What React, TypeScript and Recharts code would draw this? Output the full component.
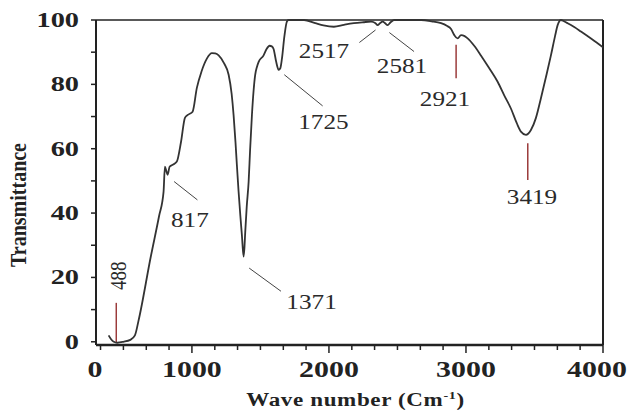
import React from 'react'
import { LineChart, Line, XAxis, YAxis, ReferenceLine, ReferenceDot } from 'recharts'

// IR spectrum (wave number cm-1 / transmittance %)
const waveNumbers = [
  392, 410, 430, 455, 500, 550, 584, 610, 700, 760, 793, 803, 815, 823, 837, 860, 890, 920, 949, 970,
  1005, 1036, 1070, 1109, 1146, 1170, 1195, 1235, 1268, 1290, 1304, 1318, 1328, 1340, 1353, 1365, 1377, 1383, 1389, 1400,
  1414, 1425, 1438, 1450, 1462, 1475, 1487, 1523, 1545, 1567, 1583, 1596, 1615, 1633, 1645, 1657, 1675, 1693, 1705, 1818,
  1900, 1960, 2036, 2110, 2182, 2250, 2307, 2340, 2355, 2372, 2392, 2410, 2428, 2450, 2477, 2672, 2750, 2818, 2860, 2891,
  2915, 2939, 2964, 2990, 3012, 3060, 3109, 3170, 3231, 3280, 3328, 3370, 3401, 3438, 3474, 3510, 3547, 3585, 3620, 3650,
  3669, 3693, 3715, 3742, 3790, 3839, 3920, 4000,
]
const transmittance = [
  2.0, 0.8, 0, -0.3, 0, 0.6, 2, 6.5, 26.5, 39, 46.6, 54.4, 52.8, 51.9, 54.4, 55, 56, 62, 69.6, 70.5,
  71.5, 78.9, 84, 88, 89.7, 89.6, 89, 86.5, 83, 77, 70.5, 62, 55, 47, 39.4, 33, 26.5, 29, 34, 42,
  49.8, 60, 70.5, 78, 83, 85.5, 87, 89, 91, 92, 91.8, 91, 87, 84.5, 85, 88, 95, 99.5, 100, 100,
  99, 98.3, 97.9, 98.5, 99, 99.3, 99.5, 99, 98.4, 99, 99.5, 99, 98.4, 99.3, 100, 100, 99.6, 99, 98.2, 97.2,
  95.3, 94.3, 95.3, 95, 94.3, 92, 89, 85, 80.8, 76.5, 72.5, 68, 65.3, 64.3, 65.8, 69.5, 75.7, 82.5, 89, 95,
  98.4, 100, 99.6, 99, 97.8, 96.4, 94, 91.5,
]
const spectrum = waveNumbers.map((w, i) => ({ w, t: transmittance[i] }))

const xZeroTick = 300
const xMajorTicks = [1000, 2000, 3000, 4000]
const xMinorTicks = [333, 500, 667, 833, 1167, 1333, 1500, 1667, 1833, 2167, 2333, 2500, 2667, 2833, 3167, 3333, 3500, 3667, 3833]
const yTicks = [0, 10, 20, 30, 40, 50, 60, 70, 80, 90, 100]
const yLabelled = [0, 20, 40, 60, 80, 100]

// peak labels with their leader lines
const peakLabels = ['817', '1371', '1725', '2517', '2581', '2921', '3419']
const peakLabelX = [985, 1873, 1960, 1964, 2533, 2847, 3482]
const peakLabelY = [38, 12.4, 68.2, 90.5, 85.6, 75.6, 44.9]
const leaderFrom = [[870, 49.8], [1418, 22.9], [1674, 83], [2222, 93], [2441, 96.1]]
const leaderTo = [[1040, 44.1], [1650, 15.7], [1954, 73.3], [2340, 96.9], [2621, 90.2]]
const redMarkX = [448, 2928, 3451]
const redMarkTop = [12.1, 92.3, 61.7]
const redMarkBottom = [-0.3, 81.9, 50.3]

const serif = '"Liberation Serif", "Times New Roman", serif'
const ink = '#222'

function XTick(props: any) {
  const { x, y, payload } = props
  const v = payload.value
  if (v === xZeroTick) {
    return (
      <text transform={`translate(${x - 1},${y + 32}) scale(1.3,1)`} textAnchor="middle"
        fontFamily={serif} fontWeight="bold" fontSize={23} fill={ink}>0</text>
    )
  }
  const mi = xMajorTicks.indexOf(v)
  if (mi < 0) return <line x1={x} x2={x} y1={y} y2={y + 5} stroke={ink} strokeWidth={1.5} />
  const dx = v === 4000 ? -6 : 0
  return (
    <g>
      <line x1={x} x2={x} y1={y} y2={y + 8} stroke={ink} strokeWidth={1.5} />
      <text transform={`translate(${x + dx},${y + 32}) scale(1.3,1)`} textAnchor="middle"
        fontFamily={serif} fontWeight="bold" fontSize={23} fill={ink}>{String(v)}</text>
    </g>
  )
}

function YTick(props: any) {
  const { x, y, payload } = props
  const v = payload.value
  return (
    <g>
      <line x1={x - 5} x2={x} y1={y} y2={y} stroke={ink} strokeWidth={1.5} />
      {yLabelled.includes(v) && (
        <text transform={`translate(79,${y + 7}) scale(1.35,1)`} textAnchor="end"
          fontFamily={serif} fontWeight="bold" fontSize={21} fill={ink}>{String(v)}</text>
      )}
    </g>
  )
}

function PeakText(text: string) {
  return (props: any) => (
    <text transform={`translate(${props.cx},${props.cy + 7}) scale(1.2,1)`} textAnchor="middle"
      fontFamily={serif} fontSize={21} fill="#2a2a2a">{text}</text>
  )
}

function RotatedPeak(props: any) {
  return (
    <text transform={`translate(${props.cx + 7},${props.cy}) rotate(-90) scale(1,1.25)`} textAnchor="middle"
      fontFamily={serif} fontSize={19} fill="#2a2a2a">488</text>
  )
}

export default function App() {
  return (
    <div style={{ width: 630, height: 411, background: '#fff' }}>
      <style>{'body{margin:0}'}</style>
      <LineChart width={630} height={411} data={spectrum} margin={{ top: 20, right: 27, bottom: 0, left: 0 }}>
        <XAxis
          dataKey="w"
          type="number"
          domain={[300, 4000]}
          ticks={[xZeroTick, ...xMinorTicks, ...xMajorTicks]}
          interval={0}
          height={66}
          tickSize={0}
          tickMargin={0}
          tickLine={false}
          tick={<XTick />}
          axisLine={{ stroke: ink, strokeWidth: 2.5 }}
          label={{
            content: (p: any) => (
              <text transform={`translate(${p.viewBox.x + p.viewBox.width / 2 + 6},${p.viewBox.y + 61}) scale(1.28,1)`}
                textAnchor="middle" fontFamily={serif} fontWeight="bold" fontSize={18} letterSpacing={0.5} fill={ink}>
                Wave number (Cm<tspan dy={-7} fontSize={11}>-1</tspan><tspan dy={7}>)</tspan>
              </text>
            ),
          }}
        />
        <YAxis
          type="number"
          domain={[-1, 100]}
          ticks={yTicks}
          interval={0}
          width={96}
          tickSize={0}
          tickMargin={0}
          tickLine={false}
          tick={<YTick />}
          axisLine={{ stroke: ink, strokeWidth: 2 }}
          label={{
            content: () => (
              <text transform="translate(26,205) rotate(-90) scale(1,1.2)" textAnchor="middle"
                fontFamily={serif} fontWeight="bold" fontSize={20} fill={ink}>Transmittance</text>
            ),
          }}
        />
        <ReferenceLine y={100} stroke={ink} strokeWidth={1.5} />
        <ReferenceLine x={4000} stroke={ink} strokeWidth={2} />
        {leaderFrom.map((f, i) => (
          <ReferenceLine key={'l' + i}
            segment={[{ x: f[0], y: f[1] }, { x: leaderTo[i][0], y: leaderTo[i][1] }]}
            stroke="#444" strokeWidth={1} />
        ))}
        {redMarkX.map((x, i) => (
          <ReferenceLine key={'r' + i}
            segment={[{ x, y: redMarkTop[i] }, { x, y: redMarkBottom[i] }]}
            stroke="#9b3b3b" strokeWidth={1.5} />
        ))}
        <Line type="monotone" dataKey="t" stroke="#333" strokeWidth={1.8} dot={false} isAnimationActive={false} />
        {peakLabels.map((t, i) => (
          <ReferenceDot key={'p' + i} x={peakLabelX[i]} y={peakLabelY[i]} r={0} shape={PeakText(t)} />
        ))}
        <ReferenceDot x={468} y={20.5} r={0} shape={RotatedPeak} />
      </LineChart>
    </div>
  )
}
